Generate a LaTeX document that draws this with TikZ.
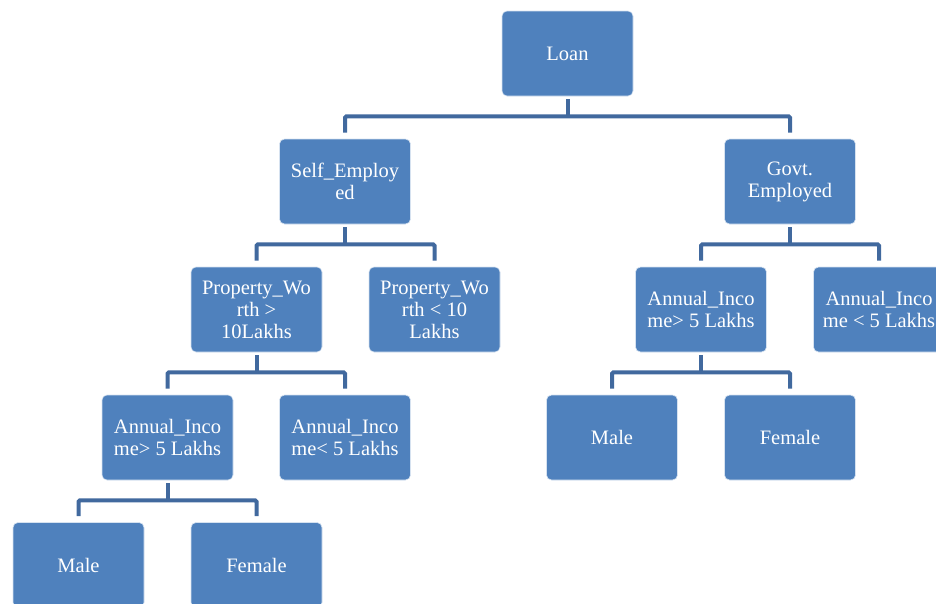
\documentclass[tikz,border=0pt]{standalone}
\usepackage{fontspec}
\setmainfont{Liberation Serif}
\usetikzlibrary{calc}
\definecolor{boxblue}{RGB}{79,129,189}
\definecolor{linkblue}{RGB}{65,105,158}
\definecolor{edgeblue}{RGB}{214,226,240}
\tikzset{
  box/.style={draw=edgeblue, line width=0.6pt, fill=boxblue, rounded corners=5pt,
    minimum width=131pt, minimum height=85pt, inner sep=0pt, align=center,
    text=white, font=\fontsize{20.5}{22}\selectfont},
  conn/.style={draw=linkblue, line width=4pt, rounded corners=1.5pt},
}
\newcommand{\mytreelink}[3]{%
  \draw[conn] ([yshift=-3pt]#1.south) -- ($(#1.south)+(0,-20pt)$);
  \draw[conn] ([yshift=6pt]#2.north) |- ($(#1.south)+(0,-20pt)$) -| ([yshift=6pt]#3.north);
}
\begin{document}
\begin{tikzpicture}[x=1pt,y=-1pt]
\useasboundingbox (0,0) rectangle (936,603);
\clip (0,0) rectangle (936,603);
\node[box] (loan) at (567.5,53.5) {Loan};
\node[box] (self) at (345,181.5) {Self\_Employ\\ed};
\node[box] (govt) at (790,181.5) {Govt.\\Employed};
\node[box] (propg) at (256.5,309.5) {Property\_Wo\\rth >\\10Lakhs};
\node[box] (propl) at (434.5,309.5) {Property\_Wo\\rth < 10\\Lakhs};
\node[box] (aigr) at (701,309.5) {Annual\_Inco\\me> 5 Lakhs};
\node[box] (ailr) at (879,309.5) {Annual\_Inco\\me < 5 Lakhs};
\node[box] (aigl) at (167.5,437.5) {Annual\_Inco\\me> 5 Lakhs};
\node[box] (aill) at (345,437.5) {Annual\_Inco\\me< 5 Lakhs};
\node[box] (maler) at (612,437.5) {Male};
\node[box] (femaler) at (790,437.5) {Female};
\node[box] (malel) at (78.5,565) {Male};
\node[box] (femalel) at (256.5,565) {Female};
\mytreelink{loan}{self}{govt}
\mytreelink{self}{propg}{propl}
\mytreelink{govt}{aigr}{ailr}
\mytreelink{propg}{aigl}{aill}
\mytreelink{aigr}{maler}{femaler}
\mytreelink{aigl}{malel}{femalel}
\end{tikzpicture}
\end{document}
